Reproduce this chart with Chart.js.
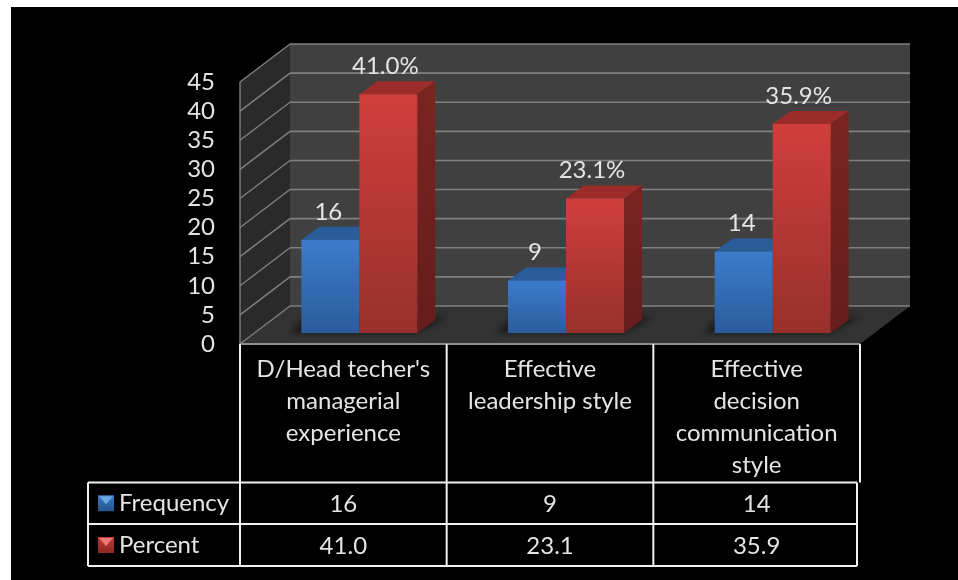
<!DOCTYPE html>
<html lang="en">
<head>
  <meta charset="UTF-8" />
  <title>Frequency and percent</title>
  <script src="https://cdn.jsdelivr.net/npm/chart.js"></script>
  <style>
    body { margin: 0; background: #fff; }
    canvas { display: block; }
  </style>
</head>
<body>
<canvas id="chart" width="958" height="580"></canvas>
<script>
const categories = [
  ["D/Head techer's", 'managerial', 'experience'],
  ['Effective', 'leadership style'],
  ['Effective', 'decision', 'communication', 'style']
];
const frequency = [16, 9, 14];
const percent = [41.0, 23.1, 35.9];
const yTicks = [0, 5, 10, 15, 20, 25, 30, 35, 40, 45];

const fontName = 'Lato, sans-serif';
const textColor = '#e4e4e4';
// 3d look: wall offset and bar offset / depth
const wall = { dx: 50, dy: -38 };
const barShift = { dx: 16, dy: -11 };
const barDepth = { dx: 18, dy: -13 };

function barGradient(top, bottom) {
  return function (c) {
    const chart = c.chart;
    if (!chart.chartArea || !c.parsed) return top;
    const y0 = chart.scales.y.getPixelForValue(c.parsed.y);
    const y1 = chart.scales.y.getPixelForValue(0);
    const g = chart.ctx.createLinearGradient(0, y0, 0, y1);
    g.addColorStop(0, top);
    g.addColorStop(1, bottom);
    return g;
  };
}

function poly(ctx, pts, fill) {
  ctx.beginPath();
  pts.forEach((p, i) => i ? ctx.lineTo(p[0], p[1]) : ctx.moveTo(p[0], p[1]));
  ctx.closePath();
  ctx.fillStyle = fill;
  ctx.fill();
}

function line(ctx, x0, y0, x1, y1, color, w) {
  ctx.beginPath();
  ctx.moveTo(x0, y0);
  ctx.lineTo(x1, y1);
  ctx.strokeStyle = color;
  ctx.lineWidth = w;
  ctx.stroke();
}

// background, walls and floor
const wallsPlugin = {
  id: 'walls',
  beforeDraw(chart) {
    const { ctx, chartArea: a, scales } = chart;
    ctx.save();
    ctx.fillStyle = '#000';
    ctx.fillRect(11, 7, chart.width - 11, chart.height - 7);
    const d = wall;
    poly(ctx, [[a.left, a.top], [a.left + d.dx, a.top + d.dy], [a.left + d.dx, a.bottom + d.dy], [a.left, a.bottom]], '#2a2a2a');
    poly(ctx, [[a.left + d.dx, a.top + d.dy], [a.right + d.dx, a.top + d.dy], [a.right + d.dx, a.bottom + d.dy], [a.left + d.dx, a.bottom + d.dy]], '#404040');
    poly(ctx, [[a.left, a.bottom], [a.right, a.bottom], [a.right + d.dx, a.bottom + d.dy], [a.left + d.dx, a.bottom + d.dy]], '#333333');
    yTicks.forEach(v => {
      const y = scales.y.getPixelForValue(v);
      line(ctx, a.left, y, a.left + d.dx, y + d.dy, '#808080', 1.4);
      line(ctx, a.left + d.dx, y + d.dy, a.right + d.dx, y + d.dy, '#808080', 1.6);
    });
    line(ctx, a.left, a.top, a.left, a.bottom, '#808080', 1.4);
    line(ctx, a.left, a.bottom, a.right, a.bottom, '#8c8c8c', 2);
    ctx.restore();
  },
  beforeDatasetsDraw(chart) {
    const { ctx } = chart;
    ctx.save();
    ctx.translate(barShift.dx, barShift.dy);
    // floor shadow of every bar pair
    const m0 = chart.getDatasetMeta(0).data, m1 = chart.getDatasetMeta(1).data;
    m0.forEach((b, i) => {
      const l = b.x - b.width / 2, r = m1[i].x + m1[i].width / 2, y = b.base;
      ctx.save();
      ctx.filter = 'blur(3px)';
      poly(ctx, [[l - 12, y], [r, y], [r + 30, y - 16], [l + 4, y - 16]], 'rgba(18,18,18,0.75)');
      ctx.restore();
    });
    // side and top face of the bars, library draws the front
    const faces = [['#2a5c9a', '#234e84', '#1f4676'], ['#9c2c29', '#7a2421', '#651d1b']];
    [0, 1].forEach(k => {
      chart.getDatasetMeta(k).data.forEach(b => {
        const l = b.x - b.width / 2, r = b.x + b.width / 2, t = b.y, base = b.base;
        const d = barDepth;
        poly(ctx, [[l, t], [r, t], [r + d.dx, t + d.dy], [l + d.dx, t + d.dy]], faces[k][0]);
        const g = ctx.createLinearGradient(0, t, 0, base);
        g.addColorStop(0, faces[k][1]);
        g.addColorStop(1, faces[k][2]);
        poly(ctx, [[r, t], [r + d.dx, t + d.dy], [r + d.dx, base + d.dy], [r, base]], g);
      });
    });
  },
  afterDatasetsDraw(chart) {
    const { ctx } = chart;
    // value labels above the bars
    ctx.font = '24px ' + fontName;
    ctx.fillStyle = textColor;
    ctx.textAlign = 'center';
    ctx.textBaseline = 'middle';
    chart.getDatasetMeta(0).data.forEach((b, i) => ctx.fillText(String(frequency[i]), b.x - 2, b.y - 28));
    chart.getDatasetMeta(1).data.forEach((b, i) => ctx.fillText(percent[i].toFixed(1) + '%', b.x - 3, b.y - 28));
    ctx.restore();
  },
  // data table under the axis
  afterDraw(chart) {
    const { ctx, chartArea: a, scales } = chart;
    const left = 88, right = 857, rows = [482.5, 524, 566];
    const cols = [a.left, a.left + (a.right - a.left) / 3, a.left + 2 * (a.right - a.left) / 3];
    const white = '#f2f2f2';
    ctx.save();
    [a.left, cols[1], cols[2], a.right].forEach(x => line(ctx, x, a.bottom, x, rows[0], white, 2));
    cols.forEach(x => line(ctx, x, rows[0], x, rows[2], white, 2));
    line(ctx, right, rows[0], right, rows[2], white, 2);
    line(ctx, left, rows[0], left, rows[2], white, 2);
    rows.forEach(y => line(ctx, left, y, right, y, white, 2));

    const series = [
      { label: 'Frequency', vals: frequency.map(String), dark: '#23558f', mid: '#3a78c2', light: '#6aa8e6' },
      { label: 'Percent', vals: percent.map(v => v.toFixed(1)), dark: '#8c2825', mid: '#c03a37', light: '#ee7a76' }
    ];
    ctx.font = '24px ' + fontName;
    ctx.textBaseline = 'middle';
    series.forEach((s, r) => {
      const cy = (rows[r] + rows[r + 1]) / 2;
      const kx = 98, ky = cy - 8, ks = 16;
      const g = ctx.createLinearGradient(0, ky, 0, ky + ks);
      g.addColorStop(0, s.mid);
      g.addColorStop(1, s.dark);
      ctx.fillStyle = g;
      ctx.fillRect(kx, ky, ks, ks);
      poly(ctx, [[kx + 1, ky + 1], [kx + ks - 1, ky + 1], [kx + ks / 2, ky + ks / 2 + 1]], s.light);
      ctx.fillStyle = textColor;
      ctx.textAlign = 'left';
      ctx.fillText(s.label, 119, cy);
      ctx.textAlign = 'center';
      s.vals.forEach((v, i) => ctx.fillText(v, scales.x.getPixelForTick(i), cy + 1));
    });
    ctx.restore();
  }
};

new Chart(document.getElementById('chart'), {
  type: 'bar',
  data: {
    labels: categories,
    datasets: [
      { label: 'Frequency', data: frequency, backgroundColor: barGradient('#3b7ccb', '#2b5c9c') },
      { label: 'Percent', data: percent, backgroundColor: barGradient('#d03e3b', '#97302c') }
    ]
  },
  options: {
    responsive: false,
    animation: false,
    layout: { padding: { top: 82, right: 98, left: 0, bottom: 0 } },
    categoryPercentage: 0.561,
    barPercentage: 1,
    plugins: { legend: { display: false }, tooltip: { enabled: false } },
    scales: {
      x: {
        grid: { display: false },
        border: { display: false },
        afterFit(s) { s.height = 236; },
        ticks: {
          color: textColor,
          autoSkip: false,
          maxRotation: 0,
          padding: 1,
          font: { family: fontName, size: 24, lineHeight: '32px' }
        }
      },
      y: {
        min: 0,
        max: 45,
        grid: { display: false },
        border: { display: false },
        afterFit(s) { s.width = 240; },
        ticks: {
          color: textColor,
          stepSize: 5,
          autoSkip: false,
          padding: 17,
          font: { family: fontName, size: 24 }
        }
      }
    }
  },
  plugins: [wallsPlugin]
});
</script>
</body>
</html>
